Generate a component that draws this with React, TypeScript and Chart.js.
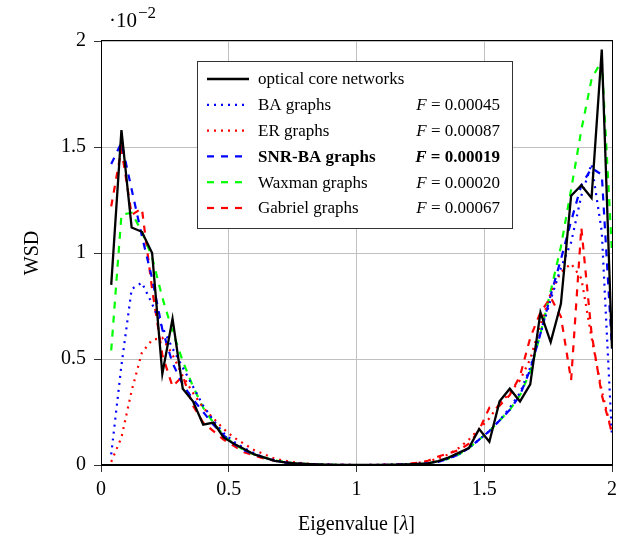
import React, { useEffect, useRef } from "react";
import { Chart, registerables } from "chart.js";

Chart.register(...registerables);

// x positions (eigenvalue bins)
const xValues: number[] = Array.from({ length: 50 }, (_, i) => +(0.04 * (i + 1)).toFixed(2));

// WSD values in units of 1e-2
const opticalCore = [
  0.85, 1.58, 1.12, 1.10, 1.00, 0.43, 0.69, 0.36, 0.30, 0.19,
  0.20, 0.13, 0.10, 0.075, 0.05, 0.035, 0.02, 0.012, 0.008, 0.005,
  0.003, 0.002, 0.001, 0.001, 0, 0, 0.001, 0.001, 0.002, 0.003,
  0.005, 0.008, 0.018, 0.035, 0.057, 0.08, 0.17, 0.11, 0.30, 0.36,
  0.30, 0.38, 0.72, 0.58, 0.76, 1.27, 1.32, 1.26, 1.96, 0.55,
];
const baGraphs = [
  0.05, 0.47, 0.83, 0.86, 0.76, 0.65, 0.55, 0.46, 0.37, 0.28,
  0.21, 0.15, 0.11, 0.08, 0.055, 0.035, 0.022, 0.013, 0.008, 0.005,
  0.003, 0.002, 0.001, 0.001, 0, 0, 0.001, 0.001, 0.002, 0.003,
  0.005, 0.009, 0.016, 0.03, 0.05, 0.08, 0.12, 0.16, 0.21, 0.27,
  0.34, 0.46, 0.62, 0.78, 0.93, 1.05, 1.27, 1.42, 1.10, 0.13,
];
const erGraphs = [
  0.015, 0.13, 0.35, 0.53, 0.59, 0.60, 0.52, 0.42, 0.34, 0.27,
  0.22, 0.17, 0.13, 0.10, 0.07, 0.05, 0.03, 0.02, 0.012, 0.007,
  0.004, 0.002, 0.001, 0.001, 0, 0, 0.001, 0.002, 0.003, 0.005,
  0.01, 0.018, 0.03, 0.05, 0.08, 0.12, 0.17, 0.22, 0.29, 0.34,
  0.40, 0.50, 0.66, 0.81, 0.91, 0.95, 0.88, 0.60, 0.35, 0.15,
];
const snrBaGraphs = [
  1.42, 1.52, 1.30, 1.08, 0.88, 0.64, 0.48, 0.38, 0.31, 0.25,
  0.19, 0.14, 0.10, 0.07, 0.05, 0.035, 0.02, 0.012, 0.007, 0.004,
  0.002, 0.001, 0.001, 0, 0, 0, 0, 0.001, 0.002, 0.003,
  0.004, 0.008, 0.015, 0.03, 0.05, 0.08, 0.12, 0.16, 0.21, 0.26,
  0.33, 0.45, 0.62, 0.80, 0.97, 1.15, 1.32, 1.40, 1.37, 0.55,
];
const waxmanGraphs = [
  0.54, 1.18, 1.19, 1.10, 0.98, 0.79, 0.63, 0.49, 0.37, 0.27,
  0.20, 0.14, 0.10, 0.07, 0.05, 0.035, 0.022, 0.014, 0.008, 0.005,
  0.003, 0.002, 0.001, 0, 0, 0, 0, 0.001, 0.002, 0.003,
  0.004, 0.008, 0.018, 0.03, 0.05, 0.08, 0.12, 0.16, 0.21, 0.26,
  0.33, 0.44, 0.62, 0.82, 1.03, 1.30, 1.58, 1.82, 1.91, 1.0,
];
const gabrielGraphs = [
  1.22, 1.49, 1.18, 1.21, 0.83, 0.52, 0.37, 0.42, 0.28, 0.20,
  0.16, 0.12, 0.09, 0.06, 0.045, 0.03, 0.02, 0.012, 0.007, 0.004,
  0.002, 0.001, 0.001, 0, 0, 0, 0, 0.001, 0.002, 0.005,
  0.01, 0.02, 0.04, 0.055, 0.07, 0.10, 0.165, 0.27, 0.28, 0.33,
  0.42, 0.60, 0.72, 0.79, 0.70, 0.40, 1.12, 0.62, 0.33, 0.15,
];

const seriesLabels = [
  "optical core networks",
  "BA graphs",
  "ER graphs",
  "SNR-BA graphs",
  "Waxman graphs",
  "Gabriel graphs",
];
const fValues = ["", "0.00045", "0.00087", "0.00019", "0.00020", "0.00067"];
const boldRow = 3;

const yTicks = [0, 0.5, 1, 1.5, 2];
const xTicks = [0, 0.5, 1, 1.5, 2];

const FONT = "'Liberation Serif', 'DejaVu Serif', serif";

type Style = { color: string; dash: number[]; width: number };
const styles: Style[] = [
  { color: "#000000", dash: [], width: 2.3 },
  { color: "#0000ff", dash: [2, 5], width: 2.2 },
  { color: "#ff0000", dash: [2, 5], width: 2.2 },
  { color: "#0000ff", dash: [7, 7], width: 2.2 },
  { color: "#00ff00", dash: [7, 7], width: 2.2 },
  { color: "#ff0000", dash: [7, 7], width: 2.2 },
];

const allSeries = [opticalCore, baGraphs, erGraphs, snrBaGraphs, waxmanGraphs, gabrielGraphs];

export default function App() {
  const ref = useRef<HTMLCanvasElement | null>(null);

  useEffect(() => {
    const canvas = ref.current;
    if (!canvas) return;

    const decorPlugin = {
      id: "decor",
      afterDraw(chart: any) {
        const ctx: CanvasRenderingContext2D = chart.ctx;
        const a = chart.chartArea;
        ctx.save();
        // frame
        ctx.strokeStyle = "#000";
        ctx.lineWidth = 1;
        ctx.setLineDash([]);
        ctx.strokeRect(Math.round(a.left) + 0.5, Math.round(a.top) - 0.5, Math.round(a.right - a.left), Math.round(a.bottom - a.top));

        // exponent label
        ctx.fillStyle = "#000";
        ctx.textBaseline = "alphabetic";
        ctx.textAlign = "left";
        ctx.font = `21px ${FONT}`;
        const base = "·10";
        ctx.fillText(base, 109, 27);
        const bw = ctx.measureText(base).width;
        ctx.font = `17px ${FONT}`;
        ctx.fillText("−2", 109 + bw + 1, 18);

        // x title
        ctx.font = `20px ${FONT}`;
        const p1 = "Eigenvalue [";
        const p3 = "]";
        const w1 = ctx.measureText(p1).width;
        ctx.font = `italic 20px ${FONT}`;
        const w2 = ctx.measureText("λ").width;
        ctx.font = `20px ${FONT}`;
        const w3 = ctx.measureText(p3).width;
        const cx = (a.left + a.right) / 2;
        let sx = cx - (w1 + w2 + w3) / 2;
        const ty = 530;
        ctx.fillText(p1, sx, ty);
        sx += w1;
        ctx.font = `italic 20px ${FONT}`;
        ctx.fillText("λ", sx, ty);
        sx += w2;
        ctx.font = `20px ${FONT}`;
        ctx.fillText(p3, sx, ty);

        // y title
        ctx.save();
        ctx.translate(38, (a.top + a.bottom) / 2);
        ctx.rotate(-Math.PI / 2);
        ctx.textAlign = "center";
        ctx.font = `20px ${FONT}`;
        ctx.fillText("WSD", 0, 0);
        ctx.restore();

        // legend
        const lx = 197, ly = 61, lw = 315, lh = 167;
        ctx.fillStyle = "#fff";
        ctx.fillRect(lx, ly, lw, lh);
        ctx.strokeStyle = "#333";
        ctx.lineWidth = 1;
        ctx.strokeRect(lx + 0.5, ly + 0.5, lw, lh);
        const rowY0 = 79;
        const rowStep = 25.8;
        seriesLabels.forEach((label, i) => {
          const y = rowY0 + i * rowStep;
          const st = styles[i];
          ctx.strokeStyle = st.color;
          ctx.lineWidth = st.width;
          ctx.setLineDash(st.dash);
          ctx.beginPath();
          ctx.moveTo(207, y);
          ctx.lineTo(249, y);
          ctx.stroke();
          ctx.setLineDash([]);
          const bold = i === boldRow ? "bold " : "";
          ctx.fillStyle = "#000";
          ctx.textBaseline = "middle";
          ctx.textAlign = "left";
          ctx.font = `${bold}17px ${FONT}`;
          ctx.fillText(label, 258, y + 1);
          if (fValues[i]) {
            const rest = " = " + fValues[i];
            ctx.font = `${bold}17px ${FONT}`;
            const rw = ctx.measureText(rest).width;
            ctx.font = `${bold}italic 17px ${FONT}`;
            const fw = ctx.measureText("F").width;
            const right = 500;
            ctx.fillText("F", right - rw - fw, y + 1);
            ctx.font = `${bold}17px ${FONT}`;
            ctx.fillText(rest, right - rw, y + 1);
          }
        });
        ctx.restore();
      },
    };

    const datasets = allSeries.map((vals, i) => ({
      label: seriesLabels[i],
      data: vals.map((v, j) => ({ x: xValues[j], y: v })),
      borderColor: styles[i].color,
      borderWidth: styles[i].width,
      borderDash: styles[i].dash,
      borderCapStyle: "butt" as const,
      borderJoinStyle: "miter" as const,
      pointRadius: 0,
      fill: false,
      tension: 0,
    }));

    const tickFont = { family: FONT, size: 20 };

    const chart = new Chart(canvas, {
      type: "line",
      data: { datasets },
      options: {
        animation: false,
        responsive: false,
        maintainAspectRatio: false,
        layout: { padding: { left: 0, top: 41, right: 11, bottom: 0 } },
        plugins: { legend: { display: false }, tooltip: { enabled: false } },
        scales: {
          x: {
            type: "linear",
            min: 0,
            max: 2,
            afterBuildTicks: (s: any) => {
              s.ticks = xTicks.map((v) => ({ value: v }));
            },
            ticks: {
              font: tickFont,
              color: "#000",
              padding: 6,
              maxRotation: 0,
              autoSkip: false,
              callback: (v: any) => String(v),
            },
            grid: { color: "#c0c0c0", lineWidth: 1, tickColor: "#333", tickLength: 7 },
            border: { color: "#000", width: 1 },
            afterFit: (s: any) => {
              s.height = 79;
            },
          },
          y: {
            type: "linear",
            min: 0,
            max: 2,
            afterBuildTicks: (s: any) => {
              s.ticks = yTicks.map((v) => ({ value: v }));
            },
            ticks: {
              font: tickFont,
              color: "#000",
              padding: 8,
              autoSkip: false,
              callback: (v: any) => String(v),
            },
            grid: { color: "#c0c0c0", lineWidth: 1, tickColor: "#333", tickLength: 7 },
            border: { color: "#000", width: 1 },
            afterFit: (s: any) => {
              s.width = 101;
            },
          },
        },
      },
      plugins: [decorPlugin],
    } as any);

    return () => chart.destroy();
  }, []);

  return (
    <div style={{ position: "absolute", left: 0, top: 0, width: 623, height: 544, background: "#fff" }}>
      <canvas ref={ref} width={623} height={544} style={{ width: 623, height: 544, display: "block" }} />
    </div>
  );
}
